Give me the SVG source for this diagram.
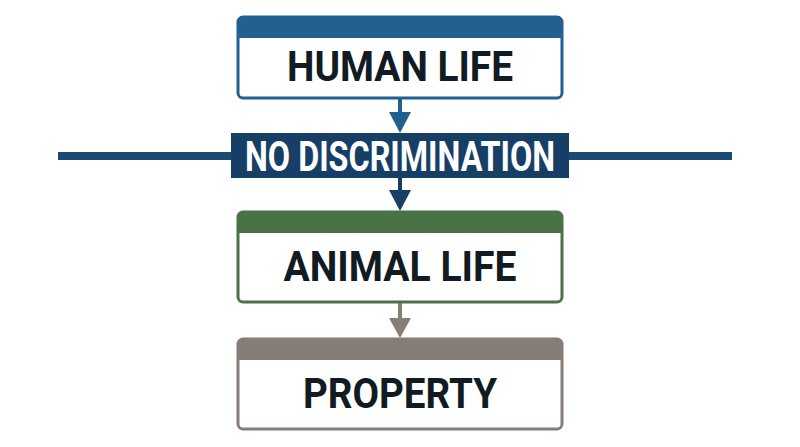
<svg xmlns="http://www.w3.org/2000/svg" width="800" height="447" viewBox="0 0 800 447">
<style>
.lbl{font-family:Roboto,"Liberation Sans",sans-serif;font-weight:bold;font-size:42px;fill:#101b22;text-anchor:middle}
.wlbl{font-family:Roboto,"Liberation Sans",sans-serif;font-weight:bold;font-size:43px;fill:#ffffff;text-anchor:middle}
</style>
<rect width="800" height="447" fill="#ffffff"/>
<g id="connectors">
<line x1="58" y1="156" x2="732" y2="156" stroke="#1d4a75" stroke-width="8"/>
<line x1="400" y1="98" x2="400" y2="116" stroke="#235f8f" stroke-width="4"/>
<polygon points="389,112 411,112 400,133" fill="#235f8f"/>
<line x1="400" y1="178" x2="400" y2="194" stroke="#173f66" stroke-width="4"/>
<polygon points="389,190 411,190 400,211" fill="#173f66"/>
<line x1="400" y1="302" x2="400" y2="322" stroke="#867d76" stroke-width="4"/>
<polygon points="389,318 411,318 400,338" fill="#867d76"/>
</g>
<g id="human-life">
<rect x="238" y="17" width="324" height="81" rx="5" fill="#ffffff" stroke="#235f8f" stroke-width="3"/>
<path d="M238,38 V22 a5,5 0 0 1 5,-5 H557 a5,5 0 0 1 5,5 V38 Z" fill="#235f8f"/>
<text class="lbl" x="400" y="81" textLength="226" lengthAdjust="spacingAndGlyphs">HUMAN LIFE</text>
</g>
<g id="no-discrimination">
<rect x="231" y="133" width="338" height="45" fill="#173f66"/>
<text class="wlbl" x="400" y="171" textLength="310" lengthAdjust="spacingAndGlyphs">NO DISCRIMINATION</text>
</g>
<g id="animal-life">
<rect x="238" y="212" width="324" height="90" rx="5" fill="#ffffff" stroke="#4a7345" stroke-width="3"/>
<path d="M238,233 V217 a5,5 0 0 1 5,-5 H557 a5,5 0 0 1 5,5 V233 Z" fill="#4a7345"/>
<text class="lbl" x="400" y="281" textLength="233" lengthAdjust="spacingAndGlyphs">ANIMAL LIFE</text>
</g>
<g id="property">
<rect x="238" y="339" width="324" height="90" rx="5" fill="#ffffff" stroke="#867d76" stroke-width="3"/>
<path d="M238,360 V344 a5,5 0 0 1 5,-5 H557 a5,5 0 0 1 5,5 V360 Z" fill="#867d76"/>
<text class="lbl" x="400" y="408" textLength="194" lengthAdjust="spacingAndGlyphs">PROPERTY</text>
</g>
</svg>
